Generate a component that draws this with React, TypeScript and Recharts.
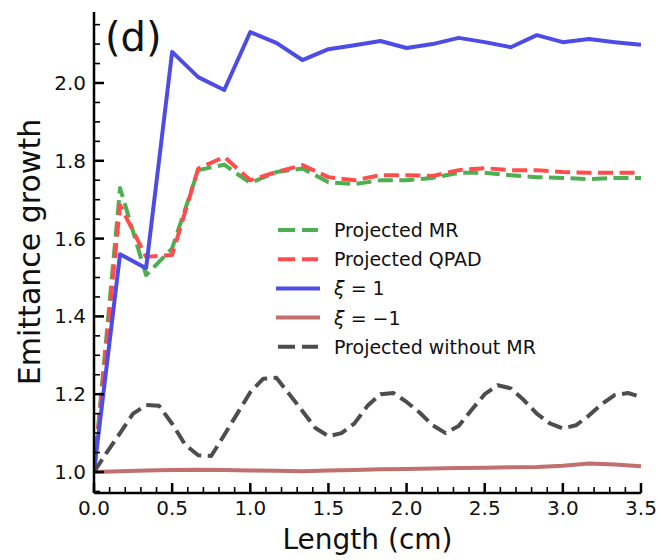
import React from "react";
import {
  Line,
  LineChart,
  XAxis,
  YAxis,
} from "recharts";

// lengths along the cell (cm), coarse grid used by most runs
const LENGTH_COARSE = [
  0, 0.1667, 0.3333, 0.5, 0.6667, 0.8333, 1, 1.1667, 1.3333, 1.5, 1.6667,
  1.8333, 2, 2.1667, 2.3333, 2.5, 2.6667, 2.8333, 3, 3.1667, 3.3333, 3.5,
];

// finer grid for the run without MR
const LENGTH_FINE = [
  0, 0.0833, 0.1667, 0.25, 0.3333, 0.4167, 0.5, 0.5833, 0.6667, 0.75, 0.8333,
  0.9167, 1, 1.0833, 1.1667, 1.25, 1.3333, 1.4167, 1.5, 1.5833, 1.6667,
  1.75, 1.8333, 1.9167, 2, 2.0833, 2.1667, 2.25, 2.3333, 2.4167, 2.5, 2.5833,
  2.6667, 2.75, 2.8333, 2.9167, 3, 3.0833, 3.1667, 3.25, 3.3333, 3.4167, 3.5,
];

const PROJECTED_MR = [
  1.0, 1.73, 1.506, 1.575, 1.776, 1.79, 1.743, 1.771, 1.78, 1.745, 1.74, 1.75,
  1.75, 1.756, 1.769, 1.769, 1.763, 1.758, 1.756, 1.753, 1.756, 1.756,
];
const PROJECTED_QPAD = [
  1.0, 1.686, 1.553, 1.558, 1.78, 1.81, 1.75, 1.771, 1.789, 1.758, 1.75, 1.763,
  1.763, 1.761, 1.776, 1.781, 1.776, 1.776, 1.771, 1.769, 1.769, 1.769,
];
const XI_PLUS = [
  1.0, 1.56, 1.524, 2.08, 2.015, 1.982, 2.131, 2.103, 2.059, 2.087, 2.097,
  2.108, 2.09, 2.1, 2.116, 2.105, 2.092, 2.123, 2.105, 2.113, 2.105, 2.098,
];
const XI_MINUS = [
  1.0, 1.002, 1.004, 1.005, 1.006, 1.005, 1.004, 1.003, 1.002, 1.004, 1.005,
  1.007, 1.008, 1.009, 1.01, 1.011, 1.012, 1.013, 1.016, 1.022, 1.019, 1.015,
];
const WITHOUT_MR = [
  1.0, 1.051, 1.1, 1.15, 1.172, 1.17, 1.124, 1.07, 1.043, 1.041, 1.095, 1.15,
  1.205, 1.24, 1.242, 1.2, 1.157, 1.113, 1.092, 1.1, 1.125, 1.17, 1.2, 1.203,
  1.18, 1.153, 1.12, 1.1, 1.118, 1.16, 1.2, 1.223, 1.215, 1.185, 1.15, 1.125,
  1.112, 1.12, 1.145, 1.175, 1.198, 1.203, 1.193,
];

const X_MAJOR = [0, 0.5, 1, 1.5, 2, 2.5, 3, 3.5];
const X_MINOR = [
  0.1, 0.2, 0.3, 0.4, 0.6, 0.7, 0.8, 0.9, 1.1, 1.2, 1.3, 1.4, 1.6, 1.7, 1.8,
  1.9, 2.1, 2.2, 2.3, 2.4, 2.6, 2.7, 2.8, 2.9, 3.1, 3.2, 3.3, 3.4,
];
const Y_MAJOR = [1, 1.2, 1.4, 1.6, 1.8, 2];
const Y_MINOR = [
  0.95, 1.05, 1.1, 1.15, 1.25, 1.3, 1.35, 1.45, 1.5, 1.55, 1.65, 1.7, 1.75,
  1.85, 1.9, 1.95, 2.05, 2.1, 2.15,
];

const coarseData = LENGTH_COARSE.map((x, i) => ({
  x,
  mr: PROJECTED_MR[i],
  qpad: PROJECTED_QPAD[i],
  xiPlus: XI_PLUS[i],
  xiMinus: XI_MINUS[i],
}));
const fineData = LENGTH_FINE.map((x, i) => ({ x, noMr: WITHOUT_MR[i] }));

const FONT = "'DejaVu Sans', sans-serif";
const DASH = "15 6.5";

const SERIES = [
  { key: "mr", data: coarseData, color: "#4caf50", dash: DASH, label: "Projected MR" },
  { key: "qpad", data: coarseData, color: "#ff4d4d", dash: DASH, label: "Projected QPAD" },
  { key: "xiPlus", data: coarseData, color: "#4d4de6", dash: undefined, label: "xi1" },
  { key: "xiMinus", data: coarseData, color: "#c26f6f", dash: undefined, label: "xi-1" },
  { key: "noMr", data: fineData, color: "#4d4d4d", dash: DASH, label: "Projected without MR" },
];

const xMajorSet = new Set(X_MAJOR);
const yMajorSet = new Set(Y_MAJOR);

function XTick(props: any) {
  const { x, y, payload } = props;
  const major = xMajorSet.has(payload.value);
  return (
    <g>
      <line
        x1={x}
        x2={x}
        y1={y}
        y2={y - (major ? 10 : 6)}
        stroke="#000"
        strokeWidth={major ? 2.5 : 1.6}
      />
      {major && (
        <text x={x} y={y + 22} textAnchor="middle" fontSize={20} fontFamily={FONT} fill="#111">
          {payload.value.toFixed(1)}
        </text>
      )}
    </g>
  );
}

function YTick(props: any) {
  const { x, y, payload } = props;
  const major = yMajorSet.has(payload.value);
  return (
    <g>
      <line
        x1={x}
        x2={x + (major ? 10 : 6)}
        y1={y}
        y2={y}
        stroke="#000"
        strokeWidth={major ? 2.5 : 1.6}
      />
      {major && (
        <text x={x - 8} y={y + 7} textAnchor="end" fontSize={20} fontFamily={FONT} fill="#111">
          {payload.value.toFixed(1)}
        </text>
      )}
    </g>
  );
}

function LegendLabel({ label }: { label: string }) {
  if (label === "xi1")
    return (
      <>
        <tspan fontStyle="italic">ξ</tspan> = 1
      </>
    );
  if (label === "xi-1")
    return (
      <>
        <tspan fontStyle="italic">ξ</tspan> = −1
      </>
    );
  return <>{label}</>;
}

function ChartLegend() {
  return (
    <svg
      width={300}
      height={150}
      style={{ position: "absolute", left: 270, top: 214 }}
    >
      {SERIES.map((s, i) => {
        const cy = 16 + i * 29.2;
        return (
          <g key={s.key}>
            <line
              x1={s.dash ? 8 : 6}
              x2={s.dash ? 48 : 50}
              y1={cy}
              y2={cy}
              stroke={s.color}
              strokeWidth={4}
              strokeDasharray={s.dash ? "17 7" : undefined}
            />
            <text x={64} y={cy + 7} fontSize={19} fontFamily={FONT} fill="#111">
              <LegendLabel label={s.label} />
            </text>
          </g>
        );
      })}
    </svg>
  );
}

export default function App() {
  const yDomain = [0.946, 2.1825];
  return (
    <div style={{ position: "absolute", left: 0, top: 0, width: 660, height: 560, background: "#fff" }}>
      <LineChart width={660} height={560} margin={{ top: 12, right: 19, left: 0, bottom: 0 }}>
        <XAxis
          xAxisId="bottom"
          type="number"
          dataKey="x"
          domain={[0, 3.5]}
          ticks={[...X_MAJOR, ...X_MINOR]}
          interval={0}
          tickSize={0}
          tickMargin={0}
          tick={XTick}
          height={67}
          axisLine={{ stroke: "#000", strokeWidth: 2.5 }}
          allowDataOverflow
        />
        <XAxis
          xAxisId="top"
          orientation="top"
          type="number"
          dataKey="x"
          domain={[0, 3.5]}
          tick={false}
          tickLine={false}
          height={0}
          axisLine={{ stroke: "#000", strokeWidth: 2.5 }}
        />
        <YAxis
          yAxisId="left"
          type="number"
          domain={yDomain}
          ticks={[...Y_MAJOR, ...Y_MINOR]}
          interval={0}
          tickSize={0}
          tickMargin={0}
          tick={YTick}
          width={94}
          axisLine={{ stroke: "#000", strokeWidth: 2.5 }}
          allowDataOverflow
        />
        <YAxis
          yAxisId="right"
          orientation="right"
          type="number"
          domain={yDomain}
          tick={false}
          tickLine={false}
          width={0}
          axisLine={{ stroke: "#000", strokeWidth: 2.5 }}
        />
        {SERIES.map((s) => (
          <Line
            key={s.key}
            xAxisId="bottom"
            yAxisId="left"
            data={s.data}
            dataKey={s.key}
            stroke={s.color}
            strokeWidth={4}
            strokeDasharray={s.dash}
            strokeLinejoin="round"
            dot={false}
            activeDot={false}
            isAnimationActive={false}
          />
        ))}
      </LineChart>
      <ChartLegend />
      <div
        style={{
          position: "absolute",
          left: 105,
          top: 12,
          fontFamily: FONT,
          fontSize: 40,
          lineHeight: "50px",
          color: "#111",
        }}
      >
        (d)
      </div>
      <div
        style={{
          position: "absolute",
          left: 0,
          width: 735,
          top: 522,
          textAlign: "center",
          fontFamily: FONT,
          fontSize: 28,
          lineHeight: "36px",
          color: "#111",
        }}
      >
        Length (cm)
      </div>
      <div
        style={{
          position: "absolute",
          left: 30,
          top: 252,
          transform: "translate(-50%, -50%) rotate(-90deg)",
          whiteSpace: "nowrap",
          fontFamily: FONT,
          fontSize: 30,
          lineHeight: "36px",
          color: "#111",
        }}
      >
        Emittance growth
      </div>
    </div>
  );
}
